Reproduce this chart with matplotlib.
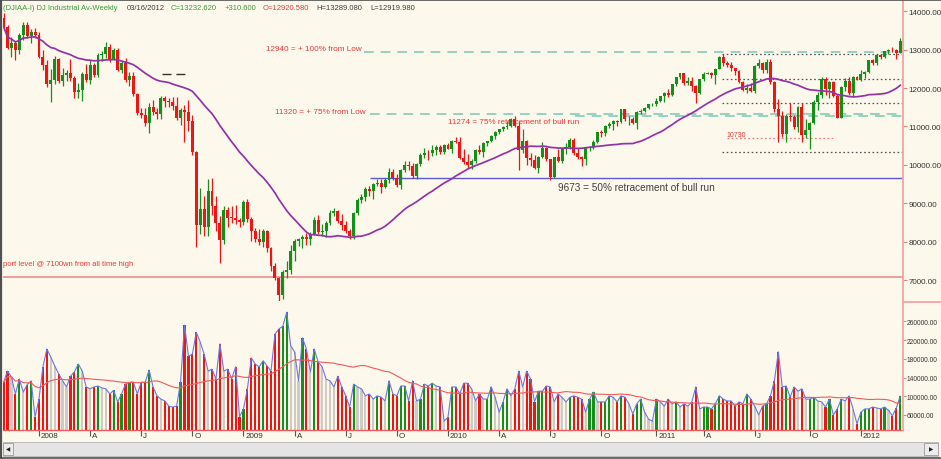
import numpy as np
import pandas as pd
import matplotlib
matplotlib.use("Agg")
import matplotlib.pyplot as plt
import matplotlib.transforms as mtransforms
from matplotlib.lines import Line2D
from matplotlib.patches import Rectangle
from matplotlib.ticker import FormatStrFormatter

plt.rcParams['font.family'] = ['Liberation Sans', 'DejaVu Sans']
plt.rcParams['lines.scale_dashes'] = False

# ---- weekly DJIA data, week ending 2007-11-02 .. 2012-03-16 ----
first_open = 13806
closes = [
    13595, 13042, 13176, 12980, 13372, 13625, 13339, 13450, 13366,
    12800, 12606, 12099, 12207, 12743, 12183, 12348, 12381, 12266, 11894, 11951, 12361, 12216,
    12609, 12325, 12849, 12892, 13058, 12745, 12986, 12480, 12638, 12209, 12307, 11843, 11346,
    11288, 11100, 11496, 11370, 11326, 11734, 11659, 11628, 11543, 11220, 11421, 11388, 11143,
    10325, 8451, 8852, 8378, 9325, 8943, 8497, 8046, 8829, 8635, 8629, 8579, 8515,
    9034, 8599, 8281, 8077, 8001, 8280, 7850, 7366, 7063, 6627, 7224, 7279, 7776,
    8018, 8083, 8131, 8076, 8212, 8575, 8268, 8277, 8500, 8764, 8799, 8539, 8438,
    8280, 8146, 8743, 9093, 9172, 9370, 9321, 9505, 9544, 9441, 9605, 9820, 9665,
    9488, 9865, 9996, 9972, 9713, 10023, 10270, 10318, 10310, 10389, 10471, 10329, 10520,
    10428, 10618, 10610, 10173, 10067, 10012, 10099, 10402, 10325, 10567, 10625, 10742, 10850,
    10927, 10997, 11019, 11204, 11009, 10380, 10620, 10193, 10137, 9931, 10212, 10450, 10144,
    9686, 10198, 10098, 10424, 10466, 10654, 10303, 10214, 10150, 10448, 10462, 10608, 10860,
    10829, 11006, 11063, 11133, 11118, 11444, 11193, 11204, 11092, 11382, 11410, 11492, 11573,
    11578, 11675, 11787, 11872, 11824, 12092, 12273, 12391, 12130, 12170, 12044, 11859, 12221,
    12376, 12380, 12342, 12505, 12811, 12638, 12596, 12512, 12441, 12151, 11952, 12004, 11934,
    12582, 12657, 12479, 12681, 12143, 11444, 11269, 10817, 11284, 11240, 10992, 11509, 10771,
    10913, 11103, 11644, 11809, 12231, 11983, 12153, 11796, 11231, 12019, 12184, 11866, 12294,
    12218, 12360, 12422, 12720, 12660, 12862, 12801, 12950, 12983, 12978, 12922, 13233,
]
upper_wick = [
    130, 40, 140, 40, 50, 80, 80, 70, 110,
    80, 190, 120, 290, 90, 30, 180, 90, 370, 40, 170, 50, 260,
    130, 30, 50, 80, 130, 80, 50, 60, 70, 140, 100, 120, 30,
    140, 200, 120, 200, 120, 50, 70, 90, 150, 220, 60, 150, 300,
    150, 40, 540, 350, 300, 330, 240, 180, 100, 80, 300, 320, 50,
    50, 90, 60, 70, 250, 60, 40, 30, 90, 20, 50, 220, 150,
    60, 30, 40, 110, 50, 70, 120, 200, 40, 60, 80, 30, 200,
    120, 60, 40, 40, 70, 60, 80, 40, 80, 80, 50, 110, 80,
    110, 30, 120, 120, 80, 30, 30, 120, 60, 130, 40, 50, 20,
    50, 40, 110, 130, 230, 230, 60, 10, 110, 20, 10, 40, 40,
    20, 20, 130, 20, 60, 140, 320, 30, 130, 120, 30, 140, 30,
    20, 20, 220, 20, 100, 60, 50, 130, 30, 20, 30, 40, 10,
    50, 20, 60, 30, 40, 10, 10, 80, 50, 20, 40, 20, 10,
    40, 60, 10, 30, 110, 10, 10, 10, 0, 120, 110, 30, 20,
    40, 40, 30, 20, 20, 70, 60, 70, 10, 20, 30, 100, 130,
    20, 90, 10, 70, 60, 40, 280, 140, 40, 330, 60, 30, 90,
    280, 20, 40, 80, 50, 50, 20, 40, 60, 20, 70, 110, 20,
    10, 120, 30, 20, 40, 20, 30, 10, 30, 70, 30, 56,
]
lower_wick = [
    100, 30, 240, 240, 100, 120, 40, 180, 80,
    20, 130, 80, 460, 110, 60, 130, 160, 80, 150, 150, 300, 60,
    100, 50, 40, 150, 100, 60, 30, 30, 80, 60, 170, 40, 60,
    70, 90, 270, 80, 120, 130, 150, 130, 120, 50, 180, 800, 250,
    60, 570, 250, 230, 210, 250, 200, 600, 100, 240, 140, 120, 130,
    80, 80, 250, 90, 90, 130, 120, 120, 60, 160, 110, 150, 100,
    270, 130, 240, 160, 160, 40, 50, 100, 140, 50, 100, 50, 120,
    40, 70, 60, 50, 80, 100, 120, 200, 60, 160, 40, 60, 60,
    60, 100, 50, 90, 40, 70, 60, 100, 170, 80, 120, 50, 40,
    20, 110, 40, 20, 40, 80, 110, 40, 50, 110, 70, 30, 60,
    40, 50, 70, 40, 20, 500, 60, 200, 160, 30, 130, 20, 40,
    70, 30, 30, 50, 140, 60, 40, 50, 170, 140, 80, 50, 40,
    100, 80, 50, 160, 100, 40, 60, 160, 20, 150, 60, 40, 50,
    50, 40, 40, 140, 50, 20, 30, 40, 50, 50, 110, 250, 20,
    30, 20, 80, 250, 20, 60, 60, 70, 110, 30, 20, 90, 50,
    60, 60, 80, 90, 40, 60, 660, 100, 220, 100, 60, 130, 170,
    70, 500, 40, 220, 60, 160, 240, 20, 20, 20, 100, 60, 100,
    10, 30, 100, 40, 70, 60, 40, 30, 70, 40, 170, 1,
]
volume_k = [
    130, 154, 141, 105, 137, 109, 125, 133, 56,
    94, 163, 201, 184, 165, 148, 133, 120, 143, 152, 169, 154, 120,
    116, 120, 122, 118, 116, 105, 113, 88, 105, 126, 130, 130, 105,
    130, 130, 156, 120, 101, 94, 90, 79, 77, 79, 130, 252, 186,
    190, 237, 216, 190, 154, 158, 137, 212, 154, 158, 137, 163, 56,
    73, 116, 182, 169, 163, 176, 165, 154, 233, 244, 250, 280, 208,
    195, 133, 225, 201, 152, 201, 173, 163, 137, 133, 120, 143, 120,
    101, 77, 126, 120, 116, 101, 105, 94, 101, 98, 90, 133, 105,
    101, 122, 122, 90, 133, 90, 94, 126, 122, 128, 122, 120, 47,
    55, 120, 120, 105, 128, 128, 116, 90, 105, 94, 94, 120, 98,
    66, 88, 116, 101, 116, 154, 120, 154, 137, 88, 111, 111, 122,
    120, 88, 105, 98, 88, 98, 101, 98, 94, 66, 94, 109, 88,
    88, 88, 101, 98, 88, 101, 98, 84, 62, 84, 94, 66, 51,
    47, 94, 88, 79, 94, 84, 88, 77, 84, 79, 88, 120, 73,
    77, 77, 73, 84, 101, 94, 90, 90, 79, 88, 84, 105, 94,
    79, 60, 79, 84, 101, 133, 195, 120, 122, 98, 120, 111, 116,
    94, 94, 98, 90, 88, 77, 94, 60, 73, 94, 90, 101, 73,
    41, 66, 73, 73, 77, 75, 73, 77, 70, 58, 75, 100,
]
quarter_names = {1: None, 4: 'A', 7: 'J', 10: 'O'}

header = [
    ("(DJIAA-I) DJ Industrial Av-Weekly", 3, '#3c9a3c'),
    ("03/16/2012", 127, '#404040'),
    ("C=13232.620", 171, '#3c9a3c'),
    ("+310.600", 225, '#3c9a3c'),
    ("O=12920.580", 263, '#e03c3c'),
    ("H=13289.080", 316, '#404040'),
    ("L=12919.980", 370, '#404040'),
]

# ---- derived series ----
n = len(closes)
dates = pd.date_range('2007-11-02', periods=n, freq='W-FRI')
x = np.arange(n)
c = np.array(closes, float)
o = np.concatenate([[first_open], c[:-1]])
hi = np.maximum(o, c) + np.array(upper_wick)
lo = np.minimum(o, c) - np.array(lower_wick)
vol = np.array(volume_k) * 1000.0
ma30 = pd.Series(c).rolling(30, min_periods=1).mean()
vol_ma = pd.Series(vol).rolling(30, min_periods=1).mean()

BG = '#fdf8ec'
UP = '#14901a'
DN = '#f01414'
W, H = 941, 460

def fx(px):
    return px / W

def fy(py):
    return 1 - py / H

def px2i(px):
    return (px - 3.6) / 3.933

fig = plt.figure(figsize=(9.41, 4.60), dpi=100, facecolor=BG)
ax = fig.add_axes([fx(3), fy(302), fx(903) - fx(3), fy(3) - fy(302)], facecolor=BG)
axv = fig.add_axes([fx(3), fy(431), fx(903) - fx(3), fy(305) - fy(431)], facecolor=BG)

xmin, xmax = -0.15, 228.7

#### price panel
up = c >= o
cols = np.where(up, UP, DN)
ax.vlines(x, lo, hi, colors=cols, lw=0.9, zorder=3)
ax.bar(x, np.maximum(np.abs(c - o), 12), bottom=np.minimum(o, c), width=0.75,
       color=cols, zorder=4, linewidth=0)
ax.plot(x, ma30, color='#9232a8', lw=1.25, zorder=5)

# drawn levels
ax.hlines(12940, px2i(364), xmax, colors='#86cbbb', lw=1.2, linestyles=(0, (7, 5)), zorder=2)
ax.hlines(11320, px2i(370), xmax, colors='#86cbbb', lw=1.2, linestyles=(0, (7, 5)), zorder=2)
ax.hlines(11274, px2i(575), xmax, colors='#86cbbb', lw=1.2, linestyles=(0, (7, 5)), zorder=2)
ax.hlines(9650, px2i(370), xmax, colors='#5a5ad6', lw=1.0, zorder=2)
ax.hlines(7100, xmin, xmax, colors='#f08c8c', lw=1.2, zorder=2)
for lvl in [12880, 12234, 11610, 10338]:
    ax.hlines(lvl, px2i(722), xmax, colors='#555555', lw=0.9, linestyles=(0, (1.2, 1.8)), zorder=2)
ax.hlines(10700, px2i(727), px2i(835), colors='#f07878', lw=0.9, linestyles=(0, (1.2, 1.8)), zorder=2)
ax.hlines(12364, px2i(162), px2i(188), colors='#333333', lw=1.0, linestyles=(0, (6.5, 3.5)), zorder=2)

ax.text(px2i(362), 13039, "12940 = + 100% from Low", ha='right', va='center',
        color='#e83a3a', fontsize=5.9)
ax.text(px2i(366), 11395, "11320 = + 75% from Low", ha='right', va='center',
        color='#e83a3a', fontsize=5.9)
ax.text(px2i(448), 11125, "11274 = 75% retracement of bull run", ha='left', va='center',
        color='#e83a3a', fontsize=5.9)
ax.text(px2i(558), 9429, "9673 = 50% retracement of bull run", ha='left', va='center',
        color='#404040', fontsize=7.2)
ax.text(px2i(3), 7429, "port level @ 7100wn from all time high", ha='left', va='center',
        color='#e83a3a', fontsize=5.5)
ax.text(px2i(727), 10805, "10730", ha='left', va='center', color='#e83a3a', fontsize=5)

ax.set_xlim(xmin, xmax)
ax.set_ylim(6467, 14234)
ax.set_xticks([])
ax.yaxis.tick_right()
ax.set_yticks(range(7000, 14001, 1000))
ax.yaxis.set_major_formatter(FormatStrFormatter('%.2f'))
ax.tick_params(axis='y', length=3, color='#e08080', labelsize=5.8, labelcolor='#333333', pad=1)
for s in ax.spines.values():
    s.set_visible(False)

#### volume panel
vcols = []
for i in range(n):
    if c[i] < o[i]:
        vcols.append(DN)
    elif i > 0 and vol[i] < vol[i - 1]:
        vcols.append('#cfcbc4')
    else:
        vcols.append(UP)
axv.bar(x, vol, width=0.55, color=vcols, linewidth=0, zorder=2)
axv.plot(x, vol, color='#6a78e0', lw=0.8, zorder=3)
axv.plot(x, vol_ma, color='#f05a5a', lw=0.8, zorder=4)

axv.set_xlim(xmin, xmax)
axv.set_ylim(27900, 297400)
axv.yaxis.tick_right()
axv.set_yticks(range(60000, 260001, 40000))
axv.yaxis.set_major_formatter(FormatStrFormatter('%.2f'))
axv.tick_params(axis='y', length=2, color='#e08080', labelsize=4.8, labelcolor='#333333', pad=0.5)

tick_pos, tick_lab = [], []
for i in range(1, n):
    m = dates[i].month
    if m != dates[i - 1].month and m in quarter_names:
        tick_pos.append(i)
        tick_lab.append(str(dates[i].year) if m == 1 else quarter_names[m])
axv.set_xticks(tick_pos)
axv.set_xticklabels(tick_lab)
axv.tick_params(axis='x', length=4, color='#555555', labelsize=5.8, labelcolor='#333333', pad=-2.5)
shift = mtransforms.ScaledTranslation(2 / 100, 0, fig.dpi_scale_trans)
for lab in axv.get_xticklabels():
    lab.set_ha('left')
    lab.set_transform(lab.get_transform() + shift)
for s in axv.spines.values():
    s.set_visible(False)
axv.spines['bottom'].set_visible(True)
axv.spines['bottom'].set_color('#f05a5a')
axv.spines['bottom'].set_linewidth(1.0)

#### header
for txt, px, col in header:
    fig.text(fx(px), fy(8), txt, ha='left', va='center', fontsize=5.5, color=col)

#### frame, right axis line, scrollbar
fig.add_artist(Line2D([fx(903), fx(903)], [fy(0), fy(431)], color='#f4a4a4', lw=1.3))
fig.add_artist(Line2D([fx(903), fx(941)], [fy(302.5), fy(302.5)], color='#f4a4a4', lw=1.3))
fig.add_artist(Line2D([fx(1), fx(1)], [fy(0), fy(460)], color='#505050', lw=1.6))
fig.add_artist(Line2D([fx(0), fx(941)], [fy(0.5), fy(0.5)], color='#505050', lw=1.2))
fig.add_artist(Line2D([fx(0), fx(941)], [fy(459), fy(459)], color='#505050', lw=1.2))
fig.add_artist(Rectangle((fx(3), fy(457)), fx(938) - fx(3), (457 - 443) / H,
                         transform=fig.transFigure, facecolor='#e4e4e4',
                         edgecolor='#b4b4b4', lw=0.6))
fig.add_artist(Rectangle((fx(3), fy(456)), fx(13) - fx(3), (456 - 444) / H,
                         transform=fig.transFigure, facecolor='#ececec',
                         edgecolor='#9a9a9a', lw=0.6))
fig.add_artist(Rectangle((fx(924), fy(456)), fx(938) - fx(924), (456 - 444) / H,
                         transform=fig.transFigure, facecolor='#ececec',
                         edgecolor='#9a9a9a', lw=0.6))
fig.text(fx(8), fy(450), '\u25c0', ha='center', va='center', fontsize=4,
         color='#202020', family='DejaVu Sans')
fig.text(fx(931), fy(450), '\u25b6', ha='center', va='center', fontsize=4,
         color='#202020', family='DejaVu Sans')

fig.savefig('out.png', dpi=100, facecolor=BG)
